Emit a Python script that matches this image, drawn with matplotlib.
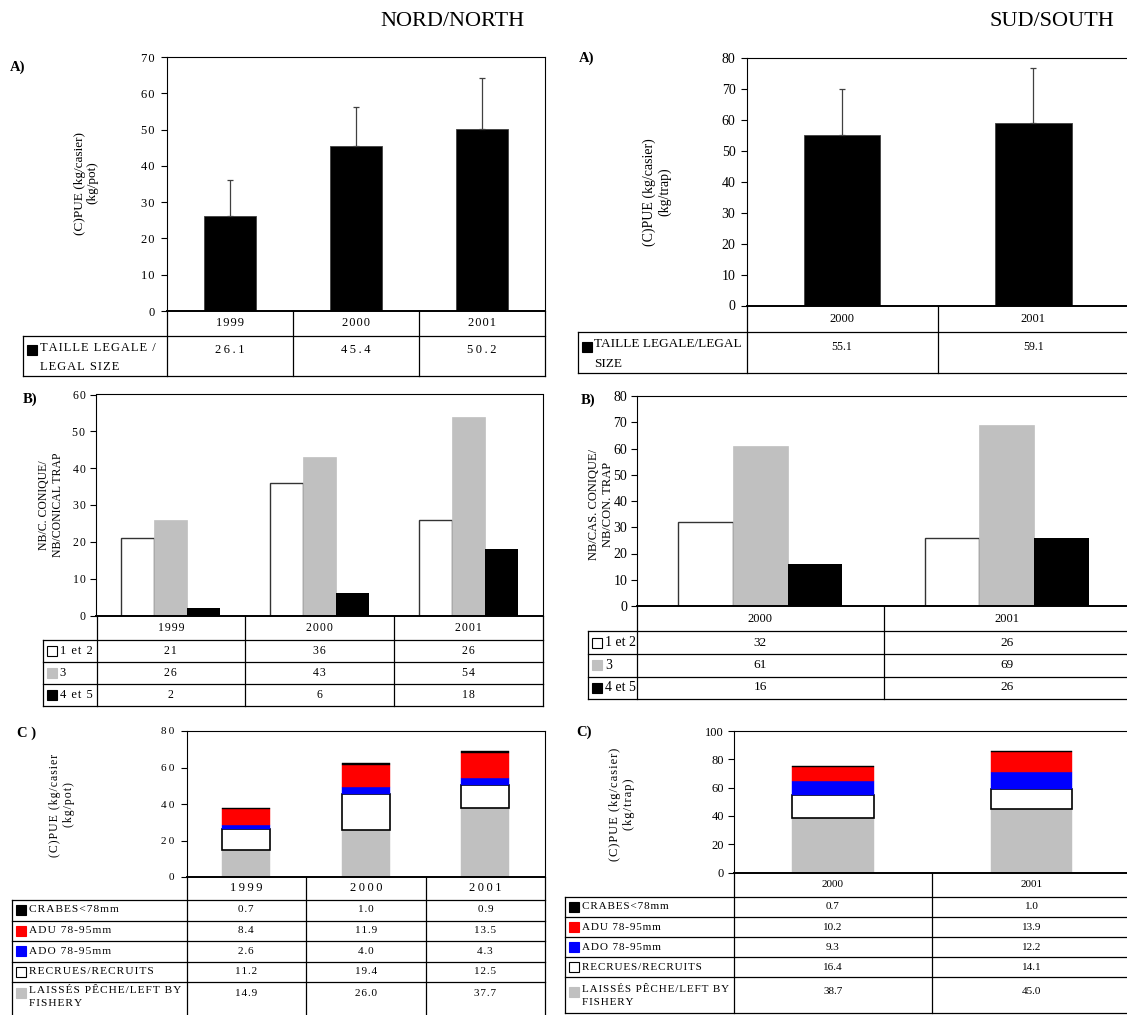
import matplotlib
matplotlib.use('Agg')
import matplotlib.pyplot as plt
from matplotlib.patches import Rectangle

# ---- data -----------------------------------------------------------------
years_n = ['1999', '2000', '2001']
years_s = ['2000', '2001']

# A) CPUE, legal size (kg/pot), upper error bar
cpue_n = [26.1, 45.4, 50.2]
cpue_n_err = [10.1, 10.8, 14.0]
cpue_s = [55.1, 59.1]
cpue_s_err = [14.9, 17.6]

# B) number of crabs per conical trap, by shell condition
b_n_12 = [21, 36, 26]
b_n_3 = [26, 43, 54]
b_n_45 = [2, 6, 18]
b_s_12 = [32, 26]
b_s_3 = [61, 69]
b_s_45 = [16, 26]

# C) CPUE by category
c_n_crabs = [0.7, 1.0, 0.9]
c_n_adu = [8.4, 11.9, 13.5]
c_n_ado = [2.6, 4.0, 4.3]
c_n_rec = [11.2, 19.4, 12.5]
c_n_left = [14.9, 26.0, 37.7]
c_s_crabs = [0.7, 1.0]
c_s_adu = [10.2, 13.9]
c_s_ado = [9.3, 12.2]
c_s_rec = [16.4, 14.1]
c_s_left = [38.7, 45.0]

b_labels = ['1 et 2', '3', '4 et 5']
c_labels = ['CRABES<78mm', 'ADU 78-95mm', 'ADO 78-95mm', 'RECRUES/RECRUITS',
            'LAISSÉS PÊCHE/LEFT BY\nFISHERY']

GREY = '#C0C0C0'
RED = '#FF0000'
BLUE = '#0000FF'

plt.rcParams['font.family'] = ['Liberation Serif', 'DejaVu Serif']

W, H = 1127, 1015
fig = plt.figure(figsize=(W / 100, H / 100), dpi=100)

# overlay in pixel units for tables and free text
tb = fig.add_axes([0, 0, 1, 1])
tb.set_xlim(0, W)
tb.set_ylim(H, 0)
tb.axis('off')
tb.set_zorder(10)

HAIR = '\u200a'
THIN = '\u2009'


def spread(s, sp):
    if not sp:
        return s
    return '\n'.join(sp.join(line) for line in s.split('\n'))


def make_axes(x0, x1, y0, y1, n, top, step, sp, fs=9, tlen=4, pad=4):
    ax = fig.add_axes([x0 / W, 1 - y1 / H, (x1 - x0) / W, (y1 - y0) / H])
    ax.set_xlim(-0.5, n - 0.5)
    ax.set_ylim(0, top)
    ticks = list(range(0, top + 1, step))
    ax.set_yticks(ticks)
    ax.set_yticklabels([spread(str(t), sp) for t in ticks], fontsize=fs)
    ax.set_xticks([])
    ax.tick_params(axis='y', direction='out', length=tlen, width=0.8, pad=pad)
    for s in ax.spines.values():
        s.set_linewidth(0.8)
        s.set_color('black')
    ax.spines['bottom'].set_linewidth(1.4)
    return ax


def draw_table(x0, x1, ybot, hdr, rows, left, cats, labels, swatches, values,
               fmt, sp_head, sp_val, sp_lab, fs_head, fs_val, fs_lab,
               first=14, ls=1.85):
    n = len(cats)
    cw = (x1 - x0) / n
    bottom = rows[-1]
    lw = 0.9
    for i in range(n + 1):
        tb.plot([x0 + i * cw] * 2, [ybot, bottom], color='black', lw=lw)
    tb.plot([left, left], [hdr, bottom], color='black', lw=lw)
    for r in [hdr] + rows:
        tb.plot([left, x1], [r, r], color='black', lw=lw)
    for i, c in enumerate(cats):
        tb.text(x0 + (i + 0.5) * cw, (ybot + hdr) / 2, spread(c, sp_head),
                ha='center', va='center', fontsize=fs_head)
    tops = [hdr] + rows[:-1]
    for j, (lab, sw, vals) in enumerate(zip(labels, swatches, values)):
        t, b = tops[j], rows[j]
        if '\n' in lab:
            ty = t + first
            tb.text(left + 17, ty - 0.62 * fs_lab * 1.39, spread(lab, sp_lab),
                    ha='left', va='top', fontsize=fs_lab, linespacing=ls)
            for i, v in enumerate(vals):
                tb.text(x0 + (i + 0.5) * cw, ty, spread(fmt.format(v), sp_val),
                        ha='center', va='center', fontsize=fs_val)
        else:
            ty = (t + b) / 2
            tb.text(left + 17, ty, spread(lab, sp_lab), ha='left', va='center',
                    fontsize=fs_lab)
            for i, v in enumerate(vals):
                tb.text(x0 + (i + 0.5) * cw, ty, spread(fmt.format(v), sp_val),
                        ha='center', va='center', fontsize=fs_val)
        fc, ec = sw
        tb.add_patch(Rectangle((left + 4, ty - 5), 10, 10, facecolor=fc,
                               edgecolor=ec, lw=0.8))


# ---- titles -----------------------------------------------------------------
tb.text(452, 21, 'NORD/NORTH', ha='center', va='center', fontsize=16)
tb.text(1114, 21, 'SUD/SOUTH', ha='right', va='center', fontsize=16)

# ---- A) north ---------------------------------------------------------------
ax = make_axes(167, 545, 57, 311, 3, 70, 10, HAIR, fs=9, tlen=4, pad=5)
xn = range(len(years_n))
ax.bar(xn, cpue_n, width=0.41, color='black', edgecolor='#404040', lw=0.6,
       yerr=[[0] * 3, cpue_n_err], ecolor='#404040',
       error_kw=dict(elinewidth=0.9, capsize=2.5, capthick=0.9))
draw_table(167, 545, 311, 335.5, [376], 22.7, years_n,
           ['TAILLE LEGALE /\nLEGAL SIZE'], [('black', 'black')], [cpue_n],
           '{:.1f}', HAIR, THIN, HAIR, 9, 9, 9, first=14.5, ls=1.8)
tb.text(18, 67, 'A)', ha='center', va='center', fontsize=10.5, fontweight='bold')
tb.text(86, 183, '(C)PUE (kg/casier)\n(kg/pot)', ha='center', va='center',
        rotation=90, fontsize=9.5, linespacing=1.1)

# ---- A) south ---------------------------------------------------------------
ax = make_axes(746.5, 1129, 58, 305.5, 2, 80, 10, None, fs=10, tlen=4.5, pad=3.5)
xs = range(len(years_s))
ax.bar(xs, cpue_s, width=0.40, color='black', edgecolor='#404040', lw=0.6,
       yerr=[[0] * 2, cpue_s_err], ecolor='#404040',
       error_kw=dict(elinewidth=0.9, capsize=2.5, capthick=0.9))
draw_table(746.5, 1129, 305.5, 331.5, [373], 577.5, years_s,
           ['TAILLE LEGALE/LEGAL\nSIZE'], [('black', 'black')], [cpue_s],
           '{:.1f}', None, None, None, 9, 8.5, 9.5, first=15, ls=1.85)
tb.text(587, 58, 'A)', ha='center', va='center', fontsize=10.5, fontweight='bold')
tb.text(657, 192, '(C)PUE (kg/casier)\n(kg/trap)', ha='center', va='center',
        rotation=90, fontsize=10, linespacing=1.1)

# ---- B) north ---------------------------------------------------------------
ax = make_axes(96.5, 542.5, 394.5, 615.5, 3, 60, 10, HAIR, fs=8.5, tlen=4, pad=4)
bw = 0.222
ax.bar([i - bw for i in xn], b_n_12, width=bw, color='white',
       edgecolor='#333333', lw=1.0)
ax.bar(list(xn), b_n_3, width=bw, color=GREY, edgecolor=GREY, lw=0.5)
ax.bar([i + bw for i in xn], b_n_45, width=bw, color='black', lw=0)
draw_table(96.5, 542.5, 615.5, 640, [662, 684, 705.5], 42.5, years_n, b_labels,
           [('white', 'black'), (GREY, GREY), ('black', 'black')],
           [b_n_12, b_n_3, b_n_45], '{}', HAIR, HAIR, HAIR, 8.5, 8.5, 9)
tb.text(30, 399, 'B)', ha='center', va='center', fontsize=10.5, fontweight='bold')
tb.text(51, 505, 'NB/C. CONIQUE/\nNB/CONICAL TRAP', ha='center', va='center',
        rotation=90, fontsize=8.5, linespacing=1.3)

# ---- B) south ---------------------------------------------------------------
ax = make_axes(637, 1130, 396, 606, 2, 80, 10, None, fs=10, tlen=4, pad=3)
ax.bar([i - bw for i in xs], b_s_12, width=bw, color='white',
       edgecolor='#333333', lw=1.0)
ax.bar(list(xs), b_s_3, width=bw, color=GREY, edgecolor=GREY, lw=0.5)
ax.bar([i + bw for i in xs], b_s_45, width=bw, color='black', lw=0)
draw_table(637, 1130, 606, 631, [654, 676.5, 698.5], 588, years_s, b_labels,
           [('white', 'black'), (GREY, GREY), ('black', 'black')],
           [b_s_12, b_s_3, b_s_45], '{}', None, None, None, 9, 9.5, 10)
tb.text(588, 400, 'B)', ha='center', va='center', fontsize=10.5, fontweight='bold')
tb.text(601, 504, 'NB/CAS. CONIQUE/\nNB/CON. TRAP', ha='center', va='center',
        rotation=90, fontsize=9, linespacing=1.2)


# ---- C) stacked -------------------------------------------------------------
def stacked(ax, x, left, rec, ado, adu, crabs, width):
    base = [0] * len(left)
    for vals, fc, ec, lw in [(left, GREY, GREY, 0.3), (rec, 'white', 'black', 1.2),
                             (ado, BLUE, BLUE, 0.3), (adu, RED, RED, 0.3),
                             (crabs, 'black', 'black', 0.3)]:
        ax.bar(list(x), vals, bottom=base, width=width, color=fc, edgecolor=ec,
               lw=lw)
        base = [b + v for b, v in zip(base, vals)]


c_swatches = [('black', 'black'), (RED, RED), (BLUE, BLUE), ('white', 'black'),
              (GREY, GREY)]

ax = make_axes(186.5, 545, 731, 877, 3, 80, 20, THIN, fs=8, tlen=4, pad=5)
stacked(ax, xn, c_n_left, c_n_rec, c_n_ado, c_n_adu, c_n_crabs, 0.40)
draw_table(186.5, 545, 877, 899.5, [920.5, 941, 961.5, 981.5, 1016], 12, years_n,
           c_labels, c_swatches,
           [c_n_crabs, c_n_adu, c_n_ado, c_n_rec, c_n_left], '{:.1f}',
           THIN, HAIR, HAIR, 9, 8, 8.2, first=11.5, ls=1.55)
tb.text(27, 733, 'C )', ha='center', va='center', fontsize=10.5, fontweight='bold')
tb.text(62, 805, spread('(C)PUE (kg/casier\n(kg/pot)', HAIR), ha='center',
        va='center', rotation=90, fontsize=8.5, linespacing=1.3)

ax = make_axes(733.5, 1131, 731, 872.5, 2, 100, 20, None, fs=9, tlen=4, pad=3)
stacked(ax, xs, c_s_left, c_s_rec, c_s_ado, c_s_adu, c_s_crabs, 0.41)
draw_table(733.5, 1131, 872.5, 896.5, [917, 937, 957, 977, 1012.5], 565, years_s,
           c_labels, c_swatches,
           [c_s_crabs, c_s_adu, c_s_ado, c_s_rec, c_s_left], '{:.1f}',
           None, None, HAIR, 8, 8, 8, first=15, ls=1.6)
tb.text(584, 732, 'C)', ha='center', va='center', fontsize=10.5, fontweight='bold')
tb.text(622, 804, spread('(C)PUE (kg/casier)\n(kg/trap)', HAIR), ha='center',
        va='center', rotation=90, fontsize=9, linespacing=1.2)

fig.savefig('out.png', dpi=100)
